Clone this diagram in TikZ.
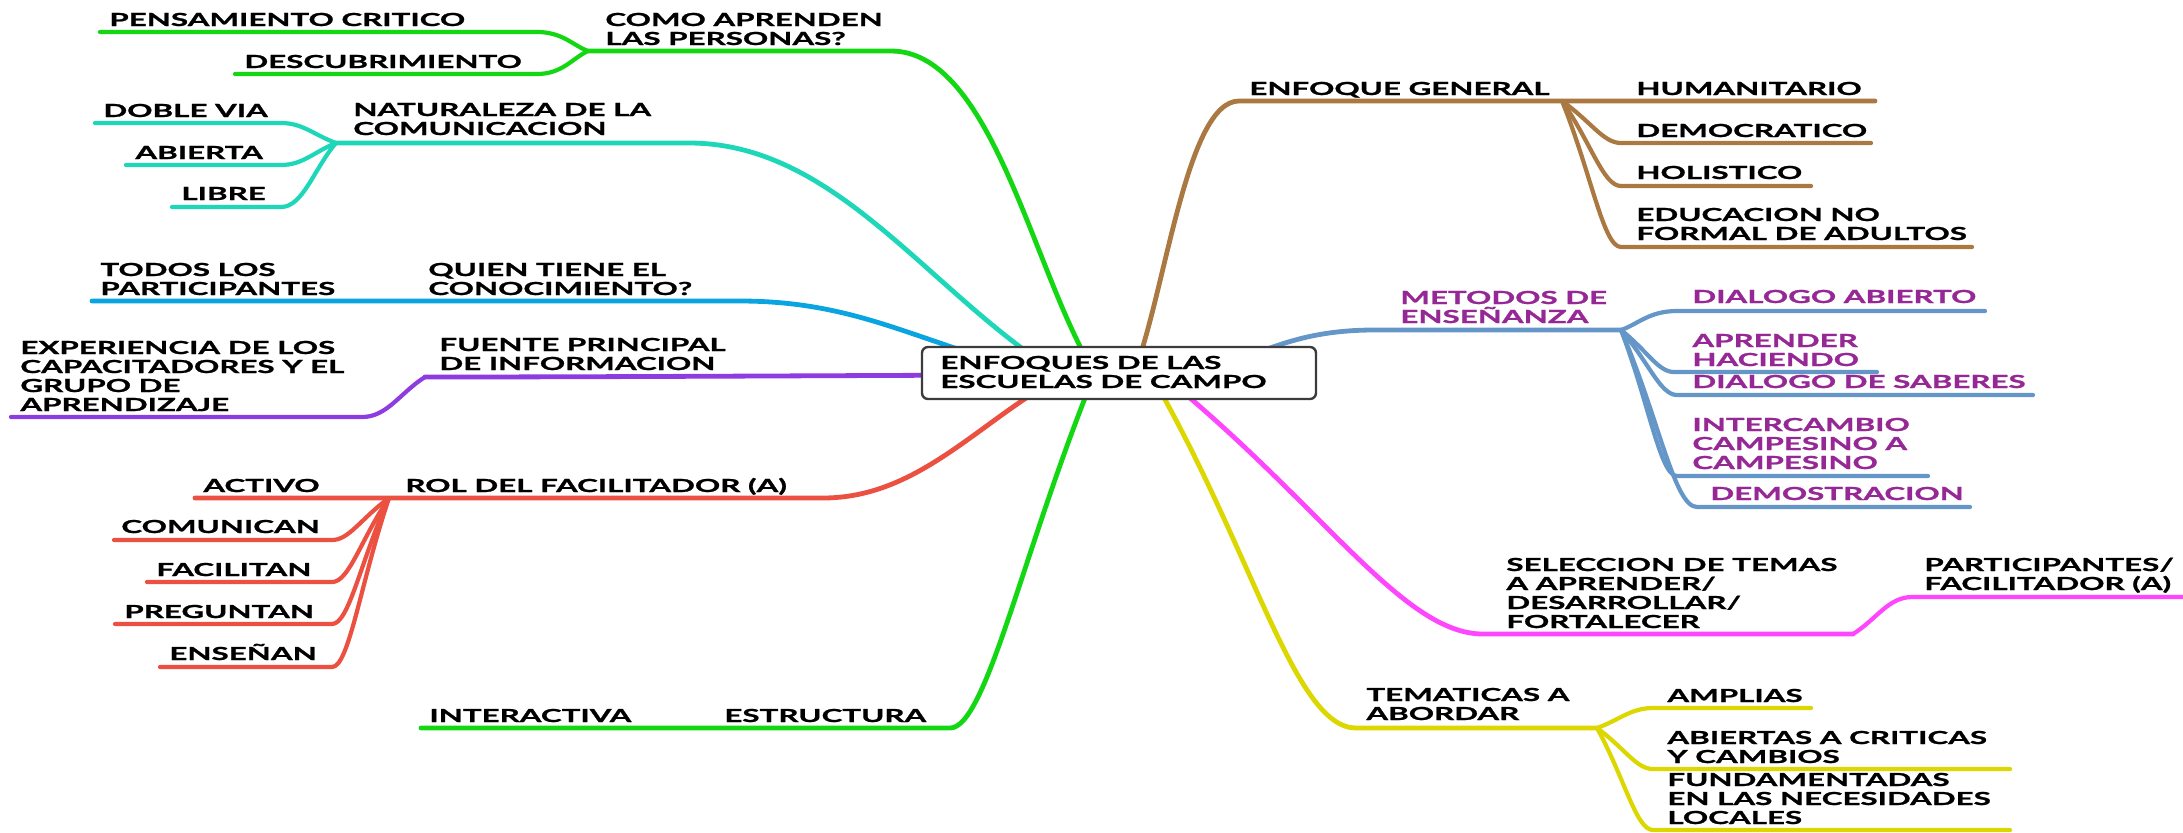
\documentclass[tikz,border=0pt]{standalone}
\usepackage{fontspec}
\newfontfamily\gs{Lato}[FakeStretch=1.74, BoldFeatures={FakeBold=1.2}]
\usetikzlibrary{calc}
\definecolor{cgreen}{RGB}{20,215,20}
\definecolor{ccyan}{RGB}{30,215,185}
\definecolor{cblue}{RGB}{10,165,225}
\definecolor{cpurple}{RGB}{140,60,225}
\definecolor{cred}{RGB}{235,80,65}
\definecolor{cbrown}{RGB}{170,120,65}
\definecolor{csteel}{RGB}{100,150,200}
\definecolor{cmag}{RGB}{255,70,255}
\definecolor{cyel}{RGB}{220,215,0}
\definecolor{ctxt}{RGB}{150,40,150}
\definecolor{cgray}{RGB}{60,60,60}
\tikzset{
 lbl/.style={anchor=base west, inner sep=0pt, align=left, font=\gs\bfseries\fontsize{9}{9.5}\selectfont},
 ptxt/.style={text=ctxt},
 br/.style={line width=2.4pt, line cap=round, line join=round},
 sb/.style={line width=2.1pt, line cap=round, line join=round},
}
% style, start, end, a, b, line end
\newcommand\bc[6]{\draw[#1] let \p1=(#2), \p2=(#3) in (#2) .. controls ({\x1+#4*(\x2-\x1)},{\y1+#4*(\y2-\y1)}) and ({\x2-#5*(\x2-\x1)},\y2) .. (#3) -- (#6);}
\begin{document}
\begin{tikzpicture}[x=0.5pt,y=-0.5pt]
\useasboundingbox (0,0) rectangle (2183,832);
% coordinates
\coordinate (sGt) at (1095,373);
\coordinate (sCy) at (1058,373);
\coordinate (sBl) at (1040,373);
\coordinate (sPu) at (1000,375);
\coordinate (sRe) at (1068,373);
\coordinate (sGb) at (1095,373);
\coordinate (sBr) at (1134,373);
\coordinate (sSt) at (1200,373);
\coordinate (sMa) at (1160,373);
\coordinate (sYe) at (1150,373);
% green top
\coordinate (eCom) at (891,51);
\coordinate (fCom) at (588,51);
\coordinate (ePen) at (537,32);
\coordinate (lPen) at (100,32);
\coordinate (eDes) at (537,74);
\coordinate (lDes) at (235,74);
% cyan
\coordinate (eNat) at (689,143);
\coordinate (fNat) at (336,143);
\coordinate (eDob) at (281,123);
\coordinate (lDob) at (95,123);
\coordinate (eAbi) at (281,165);
\coordinate (lAbi) at (126,165);
\coordinate (eLib) at (281,207);
\coordinate (lLib) at (172,207);
% blue
\coordinate (eQui) at (740,301);
\coordinate (lQui) at (92,301);
% purple
\coordinate (fFue) at (425,377);
\coordinate (eExp) at (362,417);
\coordinate (lExp) at (11,417);
% red
\coordinate (eRol) at (823,498);
\coordinate (fRol) at (389,498);
\coordinate (lAct) at (195,498);
\coordinate (eCmu) at (332,540);
\coordinate (lCmu) at (114,540);
\coordinate (eFac) at (332,582);
\coordinate (lFac) at (147,582);
\coordinate (ePre) at (332,624);
\coordinate (lPre) at (115,624);
\coordinate (eEns) at (332,667);
\coordinate (lEns) at (160,667);
% green bottom
\coordinate (eEst) at (950,728);
\coordinate (lEst) at (421,728);
% brown
\coordinate (eEnf) at (1239,101);
\coordinate (fEnf) at (1562,101);
\coordinate (lHum) at (1875,101);
\coordinate (eDem) at (1621,143);
\coordinate (lDem) at (1871,143);
\coordinate (eHol) at (1621,186);
\coordinate (lHol) at (1811,186);
\coordinate (eEdu) at (1621,247);
\coordinate (lEdu) at (1972,247);
% steel
\coordinate (eMet) at (1374,330);
\coordinate (fMet) at (1621,330);
\coordinate (eDia) at (1677,311);
\coordinate (lDia) at (1985,311);
\coordinate (eApr) at (1674,372);
\coordinate (lApr) at (1877,372);
\coordinate (eSab) at (1677,395);
\coordinate (lSab) at (2033,395);
\coordinate (eInc) at (1677,476);
\coordinate (lInc) at (1928,476);
\coordinate (eDmo) at (1697,507);
\coordinate (lDmo) at (1970,507);
% magenta
\coordinate (eSel) at (1483,634);
\coordinate (fSel) at (1853,634);
\coordinate (ePar) at (1912,597);
\coordinate (lPar) at (2190,597);
% yellow
\coordinate (eTem) at (1356,728);
\coordinate (fTem) at (1597,728);
\coordinate (eAmp) at (1653,708);
\coordinate (lAmp) at (1811,708);
\coordinate (eAbc) at (1653,769);
\coordinate (lAbc) at (2010,769);
\coordinate (eFun) at (1653,830);
\coordinate (lFun) at (2010,830);

% main branches
\bc{br,cgreen}{sGt}{eCom}{0.3}{0.5}{fCom}
\bc{br,ccyan}{sCy}{eNat}{0.35}{0.4}{fNat}
\bc{br,cblue}{sBl}{eQui}{0.4}{0.4}{lQui}
\bc{br,cpurple}{sPu}{fFue}{0.3}{0.3}{fFue}
\bc{br,cred}{sRe}{eRol}{0.35}{0.4}{lAct}
\bc{br,cgreen}{sGb}{eEst}{0.5}{0.25}{lEst}
\bc{br,cbrown}{sBr}{eEnf}{0.3}{0.5}{lHum}
\bc{br,csteel}{sSt}{eMet}{0.3}{0.5}{fMet}
\bc{br,cmag}{sMa}{eSel}{0.5}{0.25}{fSel}
\bc{br,cyel}{sYe}{eTem}{0.5}{0.3}{fTem}
% sub branches
\bc{sb,cgreen}{fCom}{ePen}{0.3}{0.5}{lPen}
\bc{sb,cgreen}{fCom}{eDes}{0.3}{0.5}{lDes}
\bc{sb,ccyan}{fNat}{eDob}{0.4}{0.4}{lDob}
\bc{sb,ccyan}{fNat}{eAbi}{0.4}{0.4}{lAbi}
\bc{sb,ccyan}{fNat}{eLib}{0.4}{0.4}{lLib}
\bc{sb,cpurple}{fFue}{eExp}{0.4}{0.4}{lExp}
\bc{sb,cred}{fRol}{eCmu}{0.5}{0.3}{lCmu}
\bc{sb,cred}{fRol}{eFac}{0.5}{0.3}{lFac}
\bc{sb,cred}{fRol}{ePre}{0.5}{0.3}{lPre}
\bc{sb,cred}{fRol}{eEns}{0.5}{0.3}{lEns}
\bc{sb,cbrown}{fEnf}{eDem}{0.5}{0.3}{lDem}
\bc{sb,cbrown}{fEnf}{eHol}{0.5}{0.3}{lHol}
\bc{sb,cbrown}{fEnf}{eEdu}{0.5}{0.3}{lEdu}
\bc{sb,csteel}{fMet}{eDia}{0.3}{0.5}{lDia}
\bc{sb,csteel}{fMet}{eApr}{0.5}{0.3}{lApr}
\bc{sb,csteel}{fMet}{eSab}{0.5}{0.3}{lSab}
\bc{sb,csteel}{fMet}{eInc}{0.5}{0.3}{lInc}
\bc{sb,csteel}{fMet}{eDmo}{0.5}{0.3}{lDmo}
\bc{sb,cmag}{fSel}{ePar}{0.4}{0.4}{lPar}
\bc{sb,cyel}{fTem}{eAmp}{0.4}{0.4}{lAmp}
\bc{sb,cyel}{fTem}{eAbc}{0.5}{0.3}{lAbc}
\bc{sb,cyel}{fTem}{eFun}{0.5}{0.3}{lFun}

% root box
\node[draw=cgray, line width=1.2pt, fill=white, rounded corners=3pt, minimum width=197pt, minimum height=26pt, inner sep=0pt] (root) at (1119,373) {};

% labels (anchored at the baseline of the last line)
\node[lbl] (tPen) at (109,26) {PENSAMIENTO CRITICO};
\node[lbl] (tDes) at (244,68) {DESCUBRIMIENTO};
\node[lbl] (tCom) at (605,45) {COMO APRENDEN\\LAS PERSONAS?};
\node[lbl] (tDob) at (103,117) {DOBLE VIA};
\node[lbl] (tAbi) at (135,159) {ABIERTA};
\node[lbl] (tLib) at (181,200) {LIBRE};
\node[lbl] (tNat) at (353,135) {NATURALEZA DE LA\\COMUNICACION};
\node[lbl] (tTod) at (100,295) {TODOS LOS\\PARTICIPANTES};
\node[lbl] (tQui) at (428,295) {QUIEN TIENE EL\\CONOCIMIENTO?};
\node[lbl] (tExp) at (20,411) {EXPERIENCIA DE LOS\\CAPACITADORES Y EL\\GRUPO DE\\APRENDIZAJE};
\node[lbl] (tFue) at (439,370) {FUENTE PRINCIPAL\\DE INFORMACION};
\node[lbl] (tRol) at (405,492) {ROL DEL FACILITADOR (A)};
\node[lbl] (tAct) at (203,492) {ACTIVO};
\node[lbl] (tCmu) at (121,533) {COMUNICAN};
\node[lbl] (tFac) at (156,576) {FACILITAN};
\node[lbl] (tPre) at (124,618) {PREGUNTAN};
\node[lbl] (tEns) at (169,660) {ENSEÑAN};
\node[lbl] (tEst) at (724,722) {ESTRUCTURA};
\node[lbl] (tInt) at (429,722) {INTERACTIVA};
\node[lbl] (tRoot) at (940,388) {ENFOQUES DE LAS\\ESCUELAS DE CAMPO};
\node[lbl] (tEnf) at (1249,95) {ENFOQUE GENERAL};
\node[lbl] (tHum) at (1636,95) {HUMANITARIO};
\node[lbl] (tDem) at (1636,137) {DEMOCRATICO};
\node[lbl] (tHol) at (1636,179) {HOLISTICO};
\node[lbl] (tEdu) at (1636,240) {EDUCACION NO\\FORMAL DE ADULTOS};
\node[lbl,ptxt] (tMet) at (1400,323) {METODOS DE\\ENSEÑANZA};
\node[lbl,ptxt] (tDia) at (1692,303) {DIALOGO ABIERTO};
\node[lbl,ptxt] (tApr) at (1692,366) {APRENDER\\HACIENDO};
\node[lbl,ptxt] (tSab) at (1692,388) {DIALOGO DE SABERES};
\node[lbl,ptxt] (tInc) at (1692,469) {INTERCAMBIO\\CAMPESINO A\\CAMPESINO};
\node[lbl,ptxt] (tDmo) at (1710,500) {DEMOSTRACION};
\node[lbl] (tSel) at (1506,628) {SELECCION DE TEMAS\\A APRENDER/\\DESARROLLAR/\\FORTALECER};
\node[lbl] (tPar) at (1924,590) {PARTICIPANTES/\\FACILITADOR (A)};
\node[lbl] (tTem) at (1366,720) {TEMATICAS A\\ABORDAR};
\node[lbl] (tAmp) at (1667,702) {AMPLIAS};
\node[lbl] (tAbc) at (1667,763) {ABIERTAS A CRITICAS\\Y CAMBIOS};
\node[lbl] (tFun) at (1667,824) {FUNDAMENTADAS\\EN LAS NECESIDADES\\LOCALES};
\end{tikzpicture}
\end{document}
